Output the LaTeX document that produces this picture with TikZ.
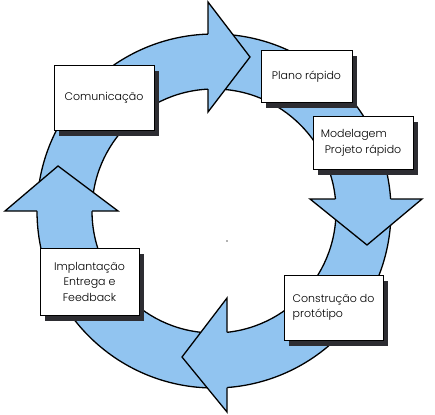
\documentclass[tikz,border=0pt]{standalone}
\usepackage{fontspec}
\setmainfont{Poppins Light}
\usetikzlibrary{shadows}
\definecolor{ringblue}{RGB}{145,196,240}
\definecolor{shadowgray}{RGB}{45,45,50}
\tikzset{
  ringline/.style={draw=black, line width=1.3pt, line join=miter},
  stagebox/.style={draw=black, line width=1pt, fill=white, inner sep=0pt,
    font=\fontsize{11}{15.5}\selectfont,
    drop shadow={shadow xshift=4.5pt, shadow yshift=-5.5pt, fill=shadowgray, opacity=1}},
}
\begin{document}
\begin{tikzpicture}[x=1pt,y=-1pt]
\useasboundingbox (0,0) rectangle (435,414);
\coordinate (c) at (214,211);
% ring
\fill[ringblue, even odd rule] (c) circle[radius=177pt] (c) circle[radius=122pt];
\draw[ringline] (c) circle[radius=177pt];
\draw[ringline] (c) circle[radius=122pt];
% arrowheads: fill then outline without base across ring
% top (pointing right)
\fill[ringblue] (208,2) -- (250,57) -- (208,112) -- cycle;
\draw[ringline] (208,34.1) -- (208,2) -- (250,57) -- (208,112) -- (208,89.2);
% right (pointing down)
\fill[ringblue] (310,199) -- (367,245) -- (422,199) -- cycle;
\draw[ringline] (390.6,199) -- (422,199) -- (367,245) -- (310,199) -- (335.4,199);
% bottom (pointing left)
\fill[ringblue] (227,298) -- (182,357) -- (227,412) -- cycle;
\draw[ringline] (227,387.5) -- (227,412) -- (182,357) -- (227,298) -- (227,332.3);
% left (pointing up)
\fill[ringblue] (5,211) -- (58,166) -- (118,211) -- cycle;
\draw[ringline] (37,211) -- (5,211) -- (58,166) -- (118,211) -- (92,211);
% boxes
\node[stagebox, minimum width=100pt, minimum height=64pt] (com) at (104,98) {Comunicação};
\node[stagebox, minimum width=91pt, minimum height=52pt] (plano) at (306.5,77) {Plano rápido};
\node[stagebox, minimum width=100pt, minimum height=52pt, align=left] (model) at (363,143) {\hspace*{-4pt}Modelagem\\Projeto rápido};
\node[stagebox, minimum width=99pt, minimum height=65pt, align=left] (constr) at (333.5,307.5) {Construção do\\protótipo};
\node[stagebox, minimum width=99pt, minimum height=67pt, align=center] (impl) at (89.5,281.5) {Implantação\\Entrega e\\Feedback};
\fill[black!60] (227,241) circle[radius=0.8pt];
\end{tikzpicture}
\end{document}
